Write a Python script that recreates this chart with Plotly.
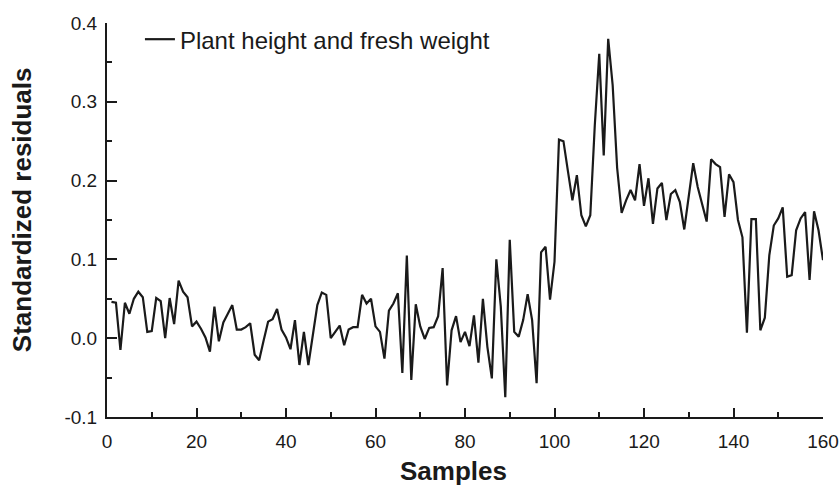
import plotly.graph_objects as go

samples = list(range(1, 161))
residuals = [
    0.046, 0.045, -0.015, 0.045, 0.031, 0.050, 0.059, 0.052, 0.008, 0.009,
    0.051, 0.047, 0.000, 0.051, 0.018, 0.073, 0.059, 0.052, 0.015, 0.021,
    0.012, 0.001, -0.017, 0.040, -0.004, 0.020, 0.031, 0.042, 0.011, 0.011,
    0.014, 0.019, -0.021, -0.028, -0.003, 0.021, 0.024, 0.037, 0.011, 0.001,
    -0.014, 0.023, -0.034, 0.008, -0.034, 0.006, 0.042, 0.058, 0.055, 0.000,
    0.008, 0.016, -0.009, 0.011, 0.014, 0.014, 0.055, 0.044, 0.050, 0.015,
    0.008, -0.026, 0.035, 0.044, 0.057, -0.044, 0.105, -0.053, 0.043, 0.015,
    -0.001, 0.013, 0.014, 0.028, 0.089, -0.060, 0.010, 0.028, -0.005, 0.008,
    -0.010, 0.029, -0.031, 0.050, -0.011, -0.051, 0.100, 0.040, -0.075, 0.125,
    0.008, 0.002, 0.023, 0.056, 0.023, -0.057, 0.109, 0.116, 0.049, 0.097,
    0.252, 0.250, 0.212, 0.175, 0.207, 0.156, 0.142, 0.156, 0.270, 0.361,
    0.232, 0.380, 0.321, 0.216, 0.159, 0.175, 0.188, 0.175, 0.221, 0.168,
    0.203, 0.145, 0.190, 0.197, 0.150, 0.183, 0.188, 0.173, 0.138, 0.179,
    0.222, 0.192, 0.169, 0.148, 0.227, 0.221, 0.217, 0.154, 0.208, 0.198,
    0.150, 0.128, 0.007, 0.151, 0.151, 0.010, 0.026, 0.105, 0.143, 0.152,
    0.166, 0.078, 0.080, 0.137, 0.152, 0.160, 0.074, 0.161, 0.137, 0.099,
]
series_name = "Plant height and fresh weight"
x_title = "Samples"
y_title = "Standardized residuals"
x_tickvals = [0, 20, 40, 60, 80, 100, 120, 140, 160]
y_tickvals = [-0.1, 0.0, 0.1, 0.2, 0.3, 0.4]
y_ticktext = ["-0.1", "0.0", "0.1", "0.2", "0.3", "0.4"]

FONT = "Arial, Liberation Sans, Helvetica, sans-serif"
INK = "#1a1a1a"

fig = go.Figure()
fig.add_trace(go.Scatter(
    x=samples, y=residuals, mode="lines", name=series_name,
    line=dict(color=INK, width=2.2),
))

axis_common = dict(
    showline=True, linecolor=INK, linewidth=2,
    ticks="inside", tickcolor=INK, tickwidth=2,
    showgrid=False, zeroline=False, mirror=False,
    tickfont=dict(family=FONT, size=19, color=INK),
)

fig.update_xaxes(
    range=[0, 160], tickvals=x_tickvals, ticklen=9,
    minor=dict(ticks="inside", dtick=10, ticklen=5, tickcolor=INK, tickwidth=2),
    ticklabelstandoff=6,
    **axis_common,
)
fig.update_yaxes(
    range=[-0.1, 0.4], tickvals=y_tickvals, ticktext=y_ticktext, ticklen=10,
    minor=dict(ticks="inside", dtick=0.05, ticklen=5, tickcolor=INK, tickwidth=2),
    ticklabelstandoff=4,
    **axis_common,
)

title_font = dict(family=FONT, size=26, color=INK)
fig.add_annotation(
    text="<b>" + x_title + "</b>", xref="paper", yref="paper",
    x=0.4846, y=-0.136, xanchor="center", yanchor="middle",
    showarrow=False, font=title_font,
)
fig.add_annotation(
    text="<b>" + y_title + "</b>", xref="paper", yref="paper",
    x=-0.1187, y=0.525, xanchor="center", yanchor="middle", textangle=-90,
    showarrow=False, font=title_font,
)

fig.update_layout(
    width=839, height=486,
    margin=dict(l=107, r=16, t=23, b=69, autoexpand=False),
    plot_bgcolor="white", paper_bgcolor="white",
    showlegend=True,
    legend=dict(
        x=0.046, y=1.015, xanchor="left", yanchor="top",
        bgcolor="rgba(0,0,0,0)", borderwidth=0,
        font=dict(family=FONT, size=24, color=INK),
    ),
)

fig.write_html("out.html")
